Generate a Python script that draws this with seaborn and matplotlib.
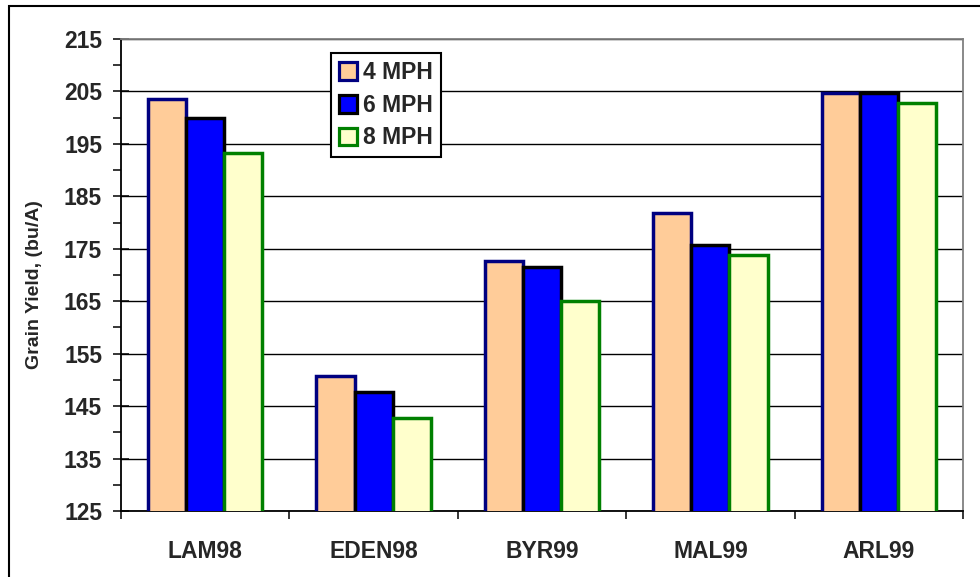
import matplotlib
matplotlib.use("Agg")
import matplotlib.pyplot as plt
from matplotlib.patches import Patch, Rectangle
from matplotlib.ticker import FixedLocator
import seaborn as sns
import pandas as pd

# Grain yield (bu/A) by site and travel speed
sites = ["LAM98", "EDEN98", "BYR99", "MAL99", "ARL99"]
speeds = ["4 MPH", "6 MPH", "8 MPH"]
yield_4mph = [203.6, 150.8, 172.7, 181.8, 204.7]
yield_6mph = [200.0, 147.7, 171.5, 175.7, 204.7]
yield_8mph = [193.3, 142.7, 165.0, 173.8, 202.8]
y_major = [125, 135, 145, 155, 165, 175, 185, 195, 205, 215]

fill_colors = ["#FFCC99", "#0000FF", "#FFFFCC"]
edge_colors = ["#000080", "#000000", "#008000"]

df = pd.DataFrame({
    "site": sites * 3,
    "speed": [s for s in speeds for _ in sites],
    "yield": yield_4mph + yield_6mph + yield_8mph,
})

sns.set_style("ticks")
plt.rcParams["font.family"] = ["Liberation Sans", "DejaVu Sans"]
plt.rcParams["font.weight"] = "bold"

fig = plt.figure(figsize=(9.8, 5.77), dpi=100)
ax = fig.add_axes([121 / 980, 1 - 511 / 577, 842 / 980, 472 / 577])

sns.barplot(data=df, x="site", y="yield", hue="speed", order=sites,
            hue_order=speeds, palette=fill_colors, width=0.68, gap=0,
            saturation=1, legend=False, ax=ax, zorder=3)

for container, ec in zip(ax.containers, edge_colors):
    for bar in container:
        bar.set_edgecolor(ec)
        bar.set_linewidth(2.5)
        bar.set_joinstyle("miter")

ax.set_ylim(y_major[0], y_major[-1])
ax.set_xlim(-0.5, len(sites) - 0.5)
ax.yaxis.set_major_locator(FixedLocator(y_major))
ax.yaxis.set_minor_locator(FixedLocator([v + 5 for v in y_major[:-1]]))
ax.xaxis.set_minor_locator(FixedLocator([i - 0.5 for i in range(len(sites) + 1)]))

ax.tick_params(axis="y", which="major", direction="inout", length=12.2,
               width=1.1, color="black", labelsize=16.5, pad=7.5)
ax.tick_params(axis="y", which="minor", direction="out", length=5.8,
               width=1.1, color="black")
ax.tick_params(axis="x", which="major", length=0, labelsize=16.5, pad=21)
ax.tick_params(axis="x", which="minor", direction="out", length=5.8,
               width=1.1, color="black")
for lbl in ax.get_xticklabels() + ax.get_yticklabels():
    lbl.set_fontweight("bold")

ax.yaxis.grid(True, which="major", color="black", linewidth=1.0)
ax.set_axisbelow(True)

ax.set_xlabel("")
ax.set_ylabel("Grain Yield, (bu/A)", fontsize=14, fontweight="bold")
ax.yaxis.set_label_coords(-0.0926, 0.48)

for side in ["left", "bottom"]:
    ax.spines[side].set_color("black")
    ax.spines[side].set_linewidth(1.3)
for side in ["top", "right"]:
    ax.spines[side].set_visible(True)
    ax.spines[side].set_color("#808080")
    ax.spines[side].set_linewidth(1.3)

handles = [Patch(facecolor=fc, edgecolor=ec, linewidth=2.3, label=s)
           for fc, ec, s in zip(fill_colors, edge_colors, speeds)]
leg = ax.legend(handles=handles, loc="upper left",
                bbox_to_anchor=(0.2494, 0.970), borderaxespad=0,
                frameon=True, fancybox=False, framealpha=1,
                edgecolor="black", handlelength=0.8, handleheight=0.8,
                handletextpad=0.25, labelspacing=0.42, borderpad=0.35,
                prop={"size": 16.5, "weight": "bold"})
leg.get_frame().set_linewidth(1.5)
leg.set_zorder(5)

# outer chart border
fig.add_artist(Rectangle((9 / 980, -0.1), 1.2, 1.1 - 6 / 577,
                         transform=fig.transFigure, fill=False,
                         edgecolor="black", linewidth=1.5))

fig.savefig("out.png", dpi=100)
